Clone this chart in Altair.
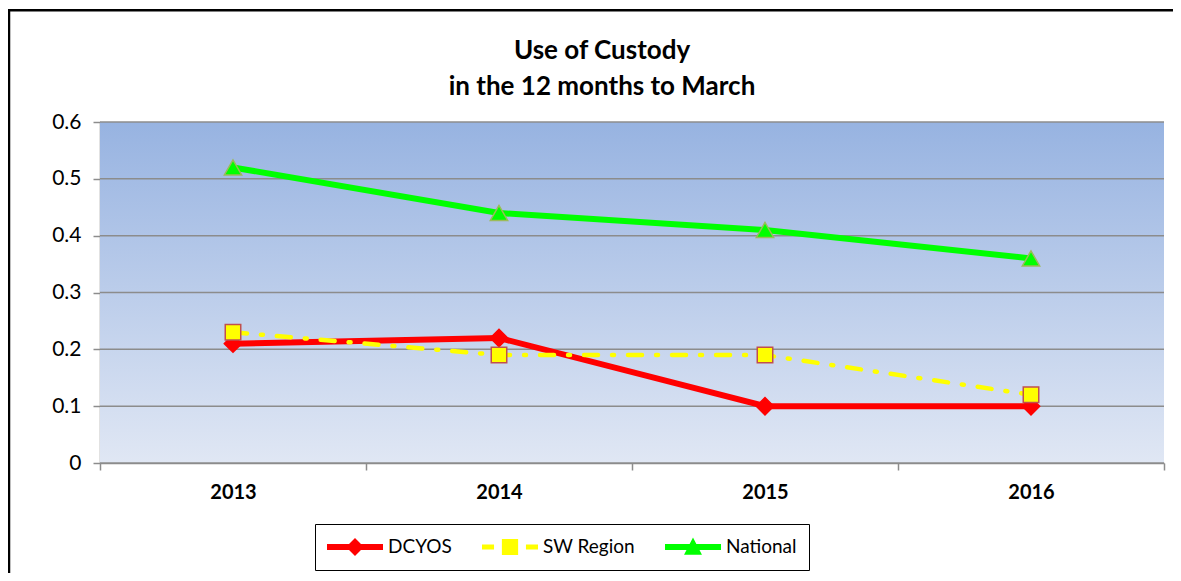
import altair as alt
import pandas as pd

# ---------------- data ----------------
years = [2013, 2014, 2015, 2016]
dcyos = [0.21, 0.22, 0.10, 0.10]
sw_region = [0.23, 0.19, 0.19, 0.12]
national = [0.52, 0.44, 0.41, 0.36]
series_names = ["DCYOS", "SW Region", "National"]
y_ticks = [0, 0.1, 0.2, 0.3, 0.4, 0.5, 0.6]
title_lines = ["Use of Custody", "in the 12 months to March"]

# ---------------- layout / style ----------------
W, H = 1064, 341
FONT = "Lato"
RED, YELLOW, GREEN = "#FF0000", "#FFFF00", "#00FF00"
GRID = "#8C8C8C"

rows = []
for name, vals in zip(series_names, [dcyos, sw_region, national]):
    for yr, v in zip(years, vals):
        rows.append({"year": yr, "value": v, "series": name})
df = pd.DataFrame(rows)

boundaries = [y - 0.5 for y in years] + [years[-1] + 0.5]
xscale = alt.Scale(domain=[years[0] - 0.5, years[-1] + 0.5], nice=False, zero=False)
yscale = alt.Scale(domain=[0, 0.6], nice=False, zero=True)

xaxis = alt.Axis(
    values=boundaries,
    labelExpr=f"datum.value < {years[-1]} ? toString(datum.value + 0.5) : ''",
    labelOffset=W / len(years) / 2,
    labelFlush=False,
    labelOverlap=False,
    grid=False,
    title=None,
    tickSize=7,
    tickColor=GRID,
    tickWidth=1.5,
    domainColor=GRID,
    domainWidth=1.5,
    labelFont=FONT,
    labelFontSize=20,
    labelFontWeight="bold",
    labelColor="black",
    labelPadding=12,
)
yaxis = alt.Axis(
    values=y_ticks,
    format="~g",
    grid=False,
    title=None,
    tickSize=7,
    tickColor=GRID,
    tickWidth=1.5,
    domainColor=GRID,
    domainWidth=1.5,
    labelFont=FONT,
    labelFontSize=21,
    labelColor="black",
    labelPadding=12,
)
X = alt.X("year:Q", scale=xscale, axis=xaxis)
Y = alt.Y("value:Q", scale=yscale, axis=yaxis)

one = alt.Data(values=[{"k": 1}])

# frame around whole chart (left and top edges visible in the window)
frame_left = alt.Chart(one).mark_rule(color="black", strokeWidth=2.5).encode(
    x=alt.value(-91), y=alt.value(-113), y2=alt.value(H + 300)
)
frame_top = alt.Chart(one).mark_rect(color="black").encode(
    x=alt.value(-92), x2=alt.value(W + 300), y=alt.value(-113), y2=alt.value(-110.5)
)

# gradient plot background
bg = alt.Chart(one).mark_rect(
    color=alt.LinearGradient(
        gradient="linear",
        stops=[alt.GradientStop(color="#97B3E1", offset=0),
               alt.GradientStop(color="#E0E7F4", offset=1)],
        x1=0, x2=0, y1=0, y2=1,
    )
).encode(x=alt.value(0), x2=alt.value(W), y=alt.value(0), y2=alt.value(H))

grid = alt.Chart(pd.DataFrame({"value": y_ticks})).mark_rule(
    color=GRID, strokeWidth=1.5
).encode(y=Y)

title1 = alt.Chart(one).mark_text(
    text=title_lines[0], font=FONT, fontSize=26, fontWeight="bold", color="black",
    align="center", baseline="middle"
).encode(x=alt.value(502), y=alt.value(-71))
title2 = alt.Chart(one).mark_text(
    text=title_lines[1], font=FONT, fontSize=26, fontWeight="bold", color="black",
    align="center", baseline="middle"
).encode(x=alt.value(502), y=alt.value(-35))


def series_layers(name, color, width, dash, shape, fill, stroke, size):
    base = alt.Chart(df[df.series == name])
    line_kwargs = dict(color=color, strokeWidth=width, strokeCap="round")
    if dash:
        line_kwargs["strokeDash"] = dash
    line = base.mark_line(**line_kwargs).encode(x=X, y=Y)
    pts = base.mark_point(
        shape=shape, filled=True, fill=fill, stroke=stroke, strokeWidth=1.5,
        size=size, opacity=1
    ).encode(x=X, y=Y)
    return [line, pts]


layers_dc = series_layers("DCYOS", RED, 6, None, "diamond", RED, RED, 300)
layers_sw = series_layers("SW Region", YELLOW, 4.5, [14, 14, 2, 14], "square",
                          YELLOW, "#C0504D", 240)
layers_na = series_layers("National", GREEN, 6, None, "triangle-up", GREEN, "#9BBB59", 300)

# legend symbols: line + marker drawn as custom paths
dcyos_path = "M-1,-0.107L1,-0.107L1,0.107L-1,0.107Z M-0.32,0L0,-0.32L0.32,0L0,0.32Z"
sw_path = ("M-1,-0.09L-0.57,-0.09L-0.57,0.09L-1,0.09Z "
           "M-0.29,-0.29L0.29,-0.29L0.29,0.29L-0.29,0.29Z "
           "M0.57,-0.09L1,-0.09L1,0.09L0.57,0.09Z")
nat_path = "M-1,-0.107L1,-0.107L1,0.107L-1,0.107Z M-0.32,0.28L0,-0.34L0.32,0.28Z"

legend = alt.Legend(
    orient="none", legendX=215, legendY=402, direction="horizontal", title=None,
    fillColor="white", strokeColor="black", padding=12,
    symbolSize=56 * 56, symbolStrokeWidth=0, symbolOpacity=1,
    clipHeight=22,
    labelFont=FONT, labelFontSize=19, labelColor="black",
    labelOffset=5, columnPadding=30,
)
legend_layer = alt.Chart(df).transform_filter("datum.value < 0").mark_point(
    filled=True, opacity=1
).encode(
    x=X, y=Y,
    shape=alt.Shape("series:N", scale=alt.Scale(domain=series_names,
                                                range=[dcyos_path, sw_path, nat_path]),
                    legend=legend),
    color=alt.Color("series:N", scale=alt.Scale(domain=series_names,
                                                range=[RED, YELLOW, GREEN]),
                    legend=legend),
)

chart = alt.layer(
    frame_left, frame_top, bg, grid, *layers_dc, *layers_sw, *layers_na,
    title1, title2, legend_layer
).properties(
    width=W, height=H,
    autosize=alt.AutoSizeParams(type="none"),
    padding={"left": 92, "top": 114, "right": 9, "bottom": 110},
    background="white",
).configure_view(stroke=None)

chart.save("out.html", embed_options={"renderer": "svg", "actions": False})
